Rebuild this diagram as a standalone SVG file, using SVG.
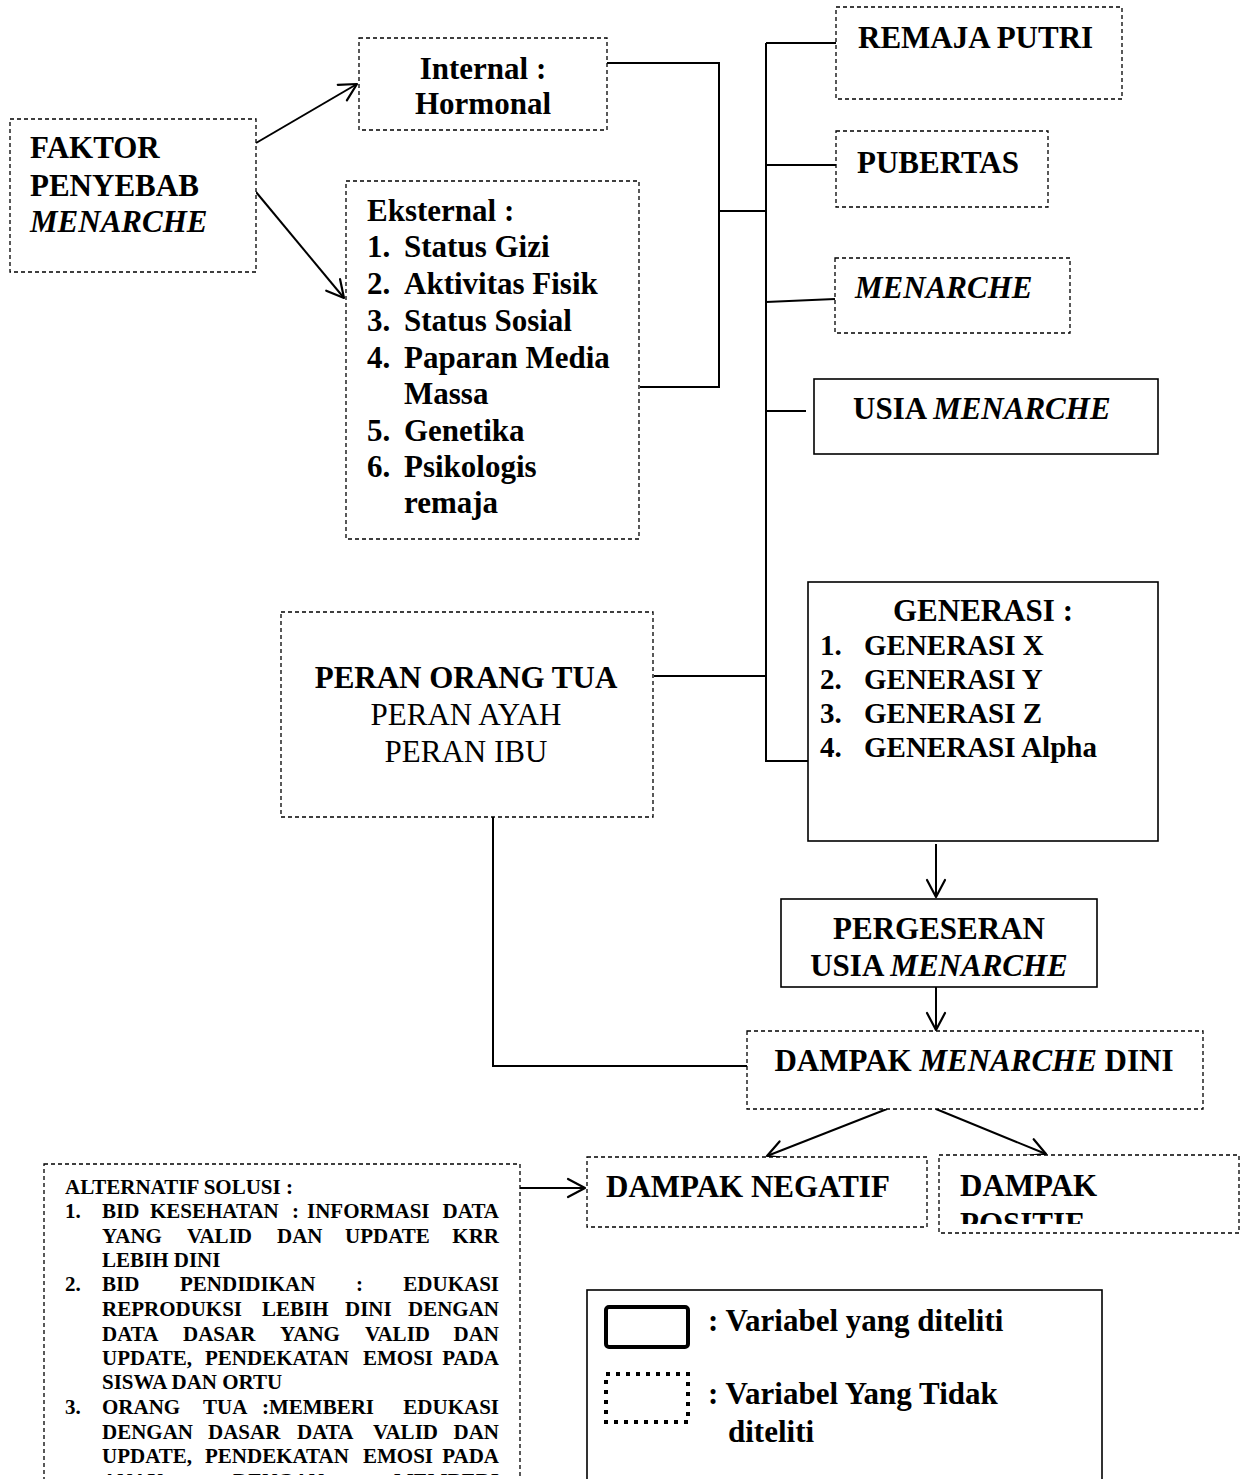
<svg xmlns="http://www.w3.org/2000/svg" width="1246" height="1479" viewBox="0 0 1246 1479">
<defs>
<style>
text{font-family:'Liberation Serif','Times New Roman',serif;fill:#000;}
.b{font-weight:bold;font-size:31px;}
.r{font-size:31px;}
.i{font-style:italic;}
.g{font-weight:bold;font-size:29px;}
.s{font-weight:bold;font-size:21px;}
.dash{fill:#fff;stroke:#000;stroke-width:1.3;stroke-dasharray:4 3;}
.solid{fill:#fff;stroke:#000;stroke-width:1.6;}
.con{fill:none;stroke:#000;stroke-width:2;}
.arr{fill:none;stroke:#000;stroke-width:2;marker-end:url(#ah);}
</style>
<marker id="ah" markerUnits="userSpaceOnUse" markerWidth="24" markerHeight="24" viewBox="0 0 24 24" refX="21" refY="12" orient="auto">
<path d="M4,3 L21,12 L4,21" fill="none" stroke="#000" stroke-width="2.2" stroke-linecap="round" stroke-linejoin="round"/>
</marker>
<clipPath id="posclip"><rect x="939" y="1155" width="300" height="69"/></clipPath>
<clipPath id="altclip"><rect x="40" y="1160" width="490" height="315"/></clipPath>
</defs>
<rect width="1246" height="1479" fill="#fff"/>

<g id="connectors">
<line class="arr" x1="256" y1="143" x2="357" y2="84"/>
<line class="arr" x1="256" y1="192" x2="344" y2="298"/>
<polyline class="con" points="607,63 719,63 719,387 640,387"/>
<line class="con" x1="719" y1="211" x2="766" y2="211"/>
<line class="con" x1="766" y1="43" x2="766" y2="762"/>
<line class="con" x1="766" y1="43" x2="836" y2="43"/>
<line class="con" x1="766" y1="165" x2="836" y2="165"/>
<line class="con" x1="766" y1="302" x2="835" y2="299"/>
<line class="con" x1="766" y1="411" x2="806" y2="411"/>
<line class="con" x1="654" y1="676" x2="766" y2="676"/>
<line class="con" x1="766" y1="761" x2="808" y2="761"/>
<line class="arr" x1="936" y1="844" x2="936" y2="897"/>
<line class="arr" x1="936" y1="987" x2="936" y2="1030"/>
<polyline class="con" points="493,817 493,1066 747,1066"/>
<line class="arr" x1="887" y1="1109" x2="767" y2="1156"/>
<line class="arr" x1="936" y1="1109" x2="1046" y2="1154"/>
<line class="arr" x1="520" y1="1188" x2="585" y2="1188"/>
</g>

<g id="faktor">
<rect class="dash" x="10" y="119" width="246" height="153"/>
<text class="b" x="30" y="158">FAKTOR</text>
<text class="b" x="30" y="196">PENYEBAB</text>
<text class="b i" x="30" y="232">MENARCHE</text>
</g>

<g id="internal">
<rect class="dash" x="359" y="38" width="248" height="92"/>
<text class="b" x="483" y="79" text-anchor="middle">Internal :</text>
<text class="b" x="483" y="114" text-anchor="middle">Hormonal</text>
</g>

<g id="eksternal">
<rect class="dash" x="346" y="181" width="293" height="358"/>
<text class="b" x="367" y="221">Eksternal :</text>
<text class="b" x="367" y="257">1.</text><text class="b" x="404" y="257">Status Gizi</text>
<text class="b" x="367" y="294">2.</text><text class="b" x="404" y="294">Aktivitas Fisik</text>
<text class="b" x="367" y="331">3.</text><text class="b" x="404" y="331">Status Sosial</text>
<text class="b" x="367" y="368">4.</text><text class="b" x="404" y="368">Paparan Media</text>
<text class="b" x="404" y="404">Massa</text>
<text class="b" x="367" y="441">5.</text><text class="b" x="404" y="441">Genetika</text>
<text class="b" x="367" y="477">6.</text><text class="b" x="404" y="477">Psikologis</text>
<text class="b" x="404" y="513">remaja</text>
</g>

<g id="remaja-putri">
<rect class="dash" x="836" y="7" width="286" height="92"/>
<text class="b" x="858" y="48">REMAJA PUTRI</text>
</g>

<g id="pubertas">
<rect class="dash" x="836" y="131" width="212" height="76"/>
<text class="b" x="857" y="173">PUBERTAS</text>
</g>

<g id="menarche">
<rect class="dash" x="835" y="258" width="235" height="75"/>
<text class="b i" x="855" y="298">MENARCHE</text>
</g>

<g id="usia-menarche">
<rect class="solid" x="814" y="379" width="344" height="75"/>
<text class="b" x="853" y="419">USIA <tspan class="i">MENARCHE</tspan></text>
</g>

<g id="generasi">
<rect class="solid" x="808" y="582" width="350" height="259"/>
<text class="b" x="983" y="621" text-anchor="middle">GENERASI :</text>
<text class="g" x="820" y="655">1.</text><text class="g" x="864" y="655">GENERASI X</text>
<text class="g" x="820" y="689">2.</text><text class="g" x="864" y="689">GENERASI Y</text>
<text class="g" x="820" y="723">3.</text><text class="g" x="864" y="723">GENERASI Z</text>
<text class="g" x="820" y="757">4.</text><text class="g" x="864" y="757">GENERASI Alpha</text>
</g>

<g id="peran-orang-tua">
<rect class="dash" x="281" y="612" width="372" height="205"/>
<text class="b" x="466" y="688" text-anchor="middle">PERAN ORANG TUA</text>
<text class="r" x="466" y="725" text-anchor="middle">PERAN AYAH</text>
<text class="r" x="466" y="762" text-anchor="middle">PERAN IBU</text>
</g>

<g id="pergeseran">
<rect class="solid" x="781" y="899" width="316" height="88"/>
<text class="b" x="939" y="939" text-anchor="middle">PERGESERAN</text>
<text class="b" x="939" y="976" text-anchor="middle">USIA <tspan class="i">MENARCHE</tspan></text>
</g>

<g id="dampak-dini">
<rect class="dash" x="747" y="1031" width="456" height="78"/>
<text class="b" x="974" y="1071" text-anchor="middle">DAMPAK <tspan class="i">MENARCHE</tspan> DINI</text>
</g>

<g id="dampak-negatif">
<rect class="dash" x="587" y="1157" width="340" height="70"/>
<text class="b" x="606" y="1197">DAMPAK NEGATIF</text>
</g>

<g id="dampak-positif">
<rect class="dash" x="939" y="1155" width="300" height="78"/>
<g clip-path="url(#posclip)">
<text class="b" x="960" y="1196">DAMPAK</text>
<text class="b" x="960" y="1234">POSITIF</text>
</g>
</g>

<g id="alternatif-solusi">
<rect class="dash" x="44" y="1164" width="476" height="330"/>
<g clip-path="url(#altclip)">
<text class="s" x="65" y="1194">ALTERNATIF SOLUSI :</text>
<text class="s" x="65" y="1218">1.</text>
<text class="s" y="1218"><tspan x="102">BID</tspan><tspan x="150">KESEHATAN</tspan><tspan x="292">:</tspan><tspan x="307">INFORMASI</tspan></text>
<text class="s" x="499" y="1218" text-anchor="end">DATA</text>
<text class="s" y="1243"><tspan x="102">YANG</tspan><tspan x="187">VALID</tspan><tspan x="277">DAN</tspan><tspan x="345">UPDATE</tspan></text>
<text class="s" x="499" y="1243" text-anchor="end">KRR</text>
<text class="s" x="102" y="1267">LEBIH DINI</text>
<text class="s" x="65" y="1291">2.</text>
<text class="s" y="1291"><tspan x="102">BID</tspan><tspan x="180">PENDIDIKAN</tspan><tspan x="356">:</tspan></text>
<text class="s" x="499" y="1291" text-anchor="end">EDUKASI</text>
<text class="s" y="1316"><tspan x="102">REPRODUKSI</tspan><tspan x="262">LEBIH</tspan><tspan x="345">DINI</tspan></text>
<text class="s" x="499" y="1316" text-anchor="end">DENGAN</text>
<text class="s" y="1341"><tspan x="102">DATA</tspan><tspan x="183">DASAR</tspan><tspan x="280">YANG</tspan><tspan x="365">VALID</tspan></text>
<text class="s" x="499" y="1341" text-anchor="end">DAN</text>
<text class="s" y="1365"><tspan x="102">UPDATE,</tspan><tspan x="205">PENDEKATAN</tspan><tspan x="363">EMOSI</tspan></text>
<text class="s" x="499" y="1365" text-anchor="end">PADA</text>
<text class="s" x="102" y="1389">SISWA DAN ORTU</text>
<text class="s" x="65" y="1414">3.</text>
<text class="s" y="1414"><tspan x="102">ORANG</tspan><tspan x="203">TUA</tspan><tspan x="262">:MEMBERI</tspan></text>
<text class="s" x="499" y="1414" text-anchor="end">EDUKASI</text>
<text class="s" y="1439"><tspan x="102">DENGAN</tspan><tspan x="208">DASAR</tspan><tspan x="297">DATA</tspan><tspan x="373">VALID</tspan></text>
<text class="s" x="499" y="1439" text-anchor="end">DAN</text>
<text class="s" y="1463"><tspan x="102">UPDATE,</tspan><tspan x="205">PENDEKATAN</tspan><tspan x="363">EMOSI</tspan></text>
<text class="s" x="499" y="1463" text-anchor="end">PADA</text>
<text class="s" y="1488"><tspan x="102">ANAK</tspan><tspan x="233">DENGAN</tspan></text>
<text class="s" x="499" y="1488" text-anchor="end">MEMBERI</text>
</g>
</g>

<g id="legend">
<rect class="solid" x="587" y="1290" width="515" height="200"/>
<rect x="606" y="1307" width="82" height="40" rx="3" fill="none" stroke="#000" stroke-width="4"/>
<rect x="606" y="1374" width="82" height="48" fill="none" stroke="#000" stroke-width="4" stroke-dasharray="4 6"/>
<text class="b" x="708" y="1331">: Variabel yang diteliti</text>
<text class="b" x="708" y="1404">: Variabel Yang Tidak</text>
<text class="b" x="728" y="1442">diteliti</text>
</g>
</svg>
